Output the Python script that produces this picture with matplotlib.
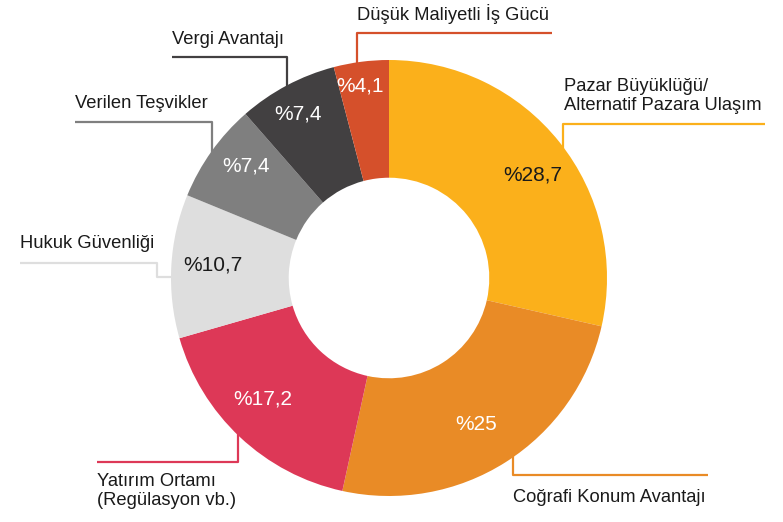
import matplotlib.pyplot as plt

plt.rcParams['font.family'] = ['Liberation Sans', 'DejaVu Sans']

# dilim verileri (saat yönünde, tepeden başlayarak)
labels = ["Pazar Büyüklüğü/\nAlternatif Pazara Ulaşım", "Coğrafi Konum Avantajı",
          "Yatırım Ortamı\n(Regülasyon vb.)", "Hukuk Güvenliği", "Verilen Teşvikler",
          "Vergi Avantajı", "Düşük Maliyetli İş Gücü"]
values = [28.7, 25, 17.2, 10.7, 7.4, 7.4, 4.1]
pct_text = ["%28,7", "%25", "%17,2", "%10,7", "%7,4", "%7,4", "%4,1"]
colors = ["#FBB01B", "#E98B26", "#DD3857", "#DEDEDE", "#7F7F7F", "#424041", "#D5502B"]
pct_colors = ["#1a1a1a", "white", "white", "#1a1a1a", "white", "white", "white"]

W, H = 783, 522
fig = plt.figure(figsize=(W / 100, H / 100), dpi=100)
ax = fig.add_axes([0, 0, 1, 1])


def py(y):
    # piksel y'sini eksen koordinatına çevir
    return H - y


cx, cy, R = 389, py(278), 218
wedges, _ = ax.pie(values, colors=colors, startangle=90, counterclock=False,
                   center=(cx, cy), radius=R, frame=True,
                   wedgeprops=dict(width=R * 0.54, linewidth=0))
for w in wedges:
    w.set_zorder(3)
ax.set_xlim(0, W)
ax.set_ylim(0, H)
ax.set_aspect('equal')
ax.axis('off')

# yüzde etiketlerinin konumları (piksel)
pct_pos = [(533, 175), (476, 424), (263, 399), (213, 265), (246, 166), (298, 114), (360, 86)]
for (x, y), t, c in zip(pct_pos, pct_text, pct_colors):
    ax.text(x, py(y), t, color=c, fontsize=15, ha='center', va='center', zorder=4)

# kılavuz çizgileri ve kategori etiketleri
leaders = [
    [(765, 124), (563, 124), (563, 170)],
    [(708, 475), (513, 475), (513, 440)],
    [(97, 462), (238, 462), (238, 420)],
    [(20, 263), (157, 263), (157, 277), (190, 277)],
    [(75, 122), (212, 122), (212, 160)],
    [(172, 57), (287, 57), (287, 95)],
    [(552, 33), (357, 33), (357, 75)],
]
label_pos = [(564, 96), (513, 497), (97, 491), (20, 243),
             (75, 103), (172, 40), (357, 14)]
for pts, c in zip(leaders, colors):
    xs = [p[0] for p in pts]
    ys = [py(p[1]) for p in pts]
    ax.plot(xs, ys, color=c, lw=1.6, zorder=1, solid_capstyle='butt')
for (x, y), t in zip(label_pos, labels):
    ax.text(x, py(y), t, color='#1a1a1a', fontsize=13.2, ha='left', va='center',
            linespacing=1.1, zorder=4)

fig.savefig("out.png", dpi=100)
